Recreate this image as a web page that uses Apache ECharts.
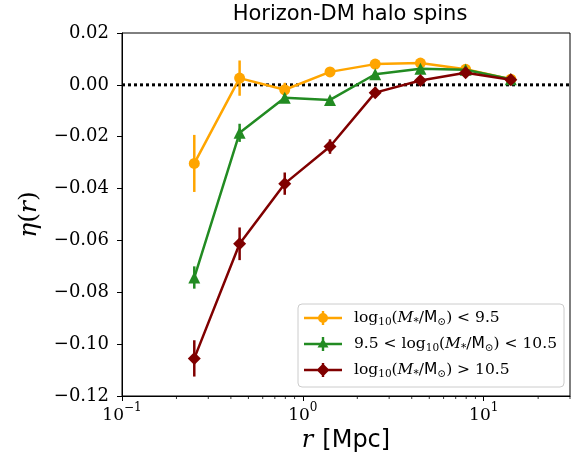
<!DOCTYPE html>
<html><head><meta charset="utf-8">
<script src="https://cdn.jsdelivr.net/npm/echarts@6/dist/echarts.min.js"></script>
<style>html,body{margin:0;padding:0;background:#fff}#c{width:573px;height:461px}</style>
</head><body><div id="c"></div>
<script>
// ---- data ----
const radii = [0.251, 0.447, 0.794, 1.413, 2.512, 4.467, 7.943, 14.125];
const etaLow = [-0.0303, 0.0026, -0.0019, 0.0050, 0.0080, 0.0084, 0.0060, 0.0022];
const errLow = [0.0110, 0.0068, 0.0027, 0.0015, 0.0010, 0.0010, 0.0010, 0.0010];
const etaMid = [-0.0743, -0.0185, -0.0050, -0.0058, 0.0041, 0.0062, 0.0058, 0.0022];
const errMid = [0.0043, 0.0035, 0.0015, 0.0012, 0.0010, 0.0010, 0.0010, 0.0010];
const etaHigh = [-0.1055, -0.0613, -0.0381, -0.0238, -0.0030, 0.0017, 0.0047, 0.0020];
const errHigh = [0.0070, 0.0063, 0.0043, 0.0028, 0.0020, 0.0015, 0.0015, 0.0010];
const seriesNames = ['log10(M*/M⊙) < 9.5', '9.5 < log10(M*/M⊙) < 10.5', 'log10(M*/M⊙) > 10.5'];
const legendRich = [
  '{t|log}{s|10}{t|(}{i|M}{s|*}{t|/}{m|M}{s|⊙}{t|) < 9.5}',
  '{t|9.5 < log}{s|10}{t|(}{i|M}{s|*}{t|/}{m|M}{s|⊙}{t|) < 10.5}',
  '{t|log}{s|10}{t|(}{i|M}{s|*}{t|/}{m|M}{s|⊙}{t|) > 10.5}'
];
const minorTicks = [0.2,0.3,0.4,0.5,0.6,0.7,0.8,0.9,2,3,4,5,6,7,8,9,20,30];
const zeroLevel = [0];
const titleText = 'Horizon-DM halo spins';

const colors = ['#ffa500', '#228b22', '#800000'];
const symbols = ['circle', 'triangle', 'diamond'];
const symSizes = [11, 12, 13];
const iconPaths = [
  'path://M0 6.8H38V9.2H0Z M17.8 1H20.2V15H17.8Z M14 8A5 5 0 0 1 24 8A5 5 0 0 1 14 8Z',
  'path://M0 6.8H38V9.2H0Z M17.8 1H20.2V15H17.8Z M19 2.5L24.5 11.5L13.5 11.5Z',
  'path://M0 6.8H38V9.2H0Z M17.8 1H20.2V15H17.8Z M19 1.5L25.5 8L19 14.5L12.5 8Z'
];
const groups = [[etaLow, errLow], [etaMid, errMid], [etaHigh, errHigh]];

const serif = 'DejaVu Serif';
const sans = 'DejaVu Sans';

function errRender(color) {
  return function (params, api) {
    const x = api.value(0), lo = api.value(1), hi = api.value(2);
    const p1 = api.coord([x, lo]), p2 = api.coord([x, hi]);
    return {type: 'line', shape: {x1: p1[0], y1: p1[1], x2: p2[0], y2: p2[1]},
      style: {stroke: color, lineWidth: 2.5}};
  };
}

const series = [];
// minor ticks on the log axis
series.push({
  type: 'custom', name: 'minor', z: 1, silent: true,
  data: minorTicks.map(v => [v, -0.12]),
  encode: {x: 0, y: 1},
  renderItem: function (params, api) {
    const p = api.coord([api.value(0), api.value(1)]);
    return {type: 'line', shape: {x1: p[0], y1: p[1], x2: p[0], y2: p[1] + 3},
      style: {stroke: '#000', lineWidth: 0.8}};
  }
});
// dotted zero reference line across the full plot width
series.push({
  type: 'custom', name: 'zero', z: 1, silent: true,
  data: zeroLevel.map(v => [1, v]),
  encode: {x: 0, y: 1},
  renderItem: function (params, api) {
    const cs = params.coordSys;
    const p = api.coord([api.value(0), api.value(1)]);
    return {type: 'line', shape: {x1: cs.x, y1: p[1], x2: cs.x + cs.width, y2: p[1]},
      style: {stroke: '#000', lineWidth: 3, lineDash: [3, 3]}};
  }
});
groups.forEach((g, k) => {
  const eta = g[0], err = g[1];
  series.push({
    type: 'custom', name: seriesNames[k] + ' err', z: 2 + k * 2, silent: true,
    data: radii.map((r, i) => [r, eta[i] - err[i], eta[i] + err[i]]),
    encode: {x: 0, y: [1, 2]},
    renderItem: errRender(colors[k])
  });
  series.push({
    type: 'line', name: seriesNames[k], z: 3 + k * 2,
    data: radii.map((r, i) => [r, eta[i]]),
    symbol: symbols[k], symbolSize: symSizes[k], showAllSymbol: true,
    itemStyle: {color: colors[k], borderWidth: 0},
    lineStyle: {color: colors[k], width: 2.5},
    emphasis: {disabled: true}
  });
});

const chart = echarts.init(document.getElementById('c'), null, {renderer: 'canvas'});
chart.setOption({
  animation: false,
  backgroundColor: '#fff',
  grid: {left: 122, right: 3, top: 33, bottom: 65, show: true, borderColor: '#000', borderWidth: 1},
  graphic: [{
    type: 'text', x: 350, y: 4, z: 10,
    style: {text: titleText, font: '21px "DejaVu Sans"', fill: '#000', textAlign: 'center', textVerticalAlign: 'top'}
  }],
  xAxis: {
    type: 'log', logBase: 10, min: 0.1, max: 30,
    name: '{i|r}{m|[Mpc]}', nameLocation: 'middle', nameGap: 31,
    nameTextStyle: {rich: {
      i: {fontFamily: serif, fontStyle: 'italic', fontSize: 24, color: '#000'},
      m: {fontFamily: sans, fontSize: 24, color: '#000', padding: [0, 0, 0, 9]}
    }},
    axisLine: {show: true, onZero: false, lineStyle: {color: '#000', width: 1}},
    axisTick: {show: true, inside: false, length: 5, lineStyle: {color: '#000', width: 1}},
    minorTick: {show: false},
    splitLine: {show: false},
    axisLabel: {
      showMaxLabel: false, margin: 6,
      formatter: function (v) {
        const e = Math.round(Math.log10(v));
        if (Math.abs(Math.log10(v) - e) > 1e-6) return '';
        return '{b|10}{s|' + (e < 0 ? '−' + (-e) : e) + '}';
      },
      rich: {
        b: {fontFamily: serif, fontSize: 17, color: '#000', lineHeight: 22, verticalAlign: 'bottom'},
        s: {fontFamily: serif, fontSize: 12, color: '#000', lineHeight: 14, verticalAlign: 'top'}
      }
    }
  },
  yAxis: {
    type: 'value', min: -0.12, max: 0.02, interval: 0.02,
    name: '{i|η}{t|(}{i|r}{t|)}', nameLocation: 'middle', nameGap: 80, nameRotate: 90,
    nameTextStyle: {rich: {
      i: {fontFamily: serif, fontStyle: 'italic', fontSize: 25, color: '#000'},
      t: {fontFamily: serif, fontSize: 25, color: '#000'}
    }},
    axisLine: {show: true, onZero: false, lineStyle: {color: '#000', width: 1}},
    axisTick: {show: true, inside: false, length: 5, lineStyle: {color: '#000', width: 1}},
    splitLine: {show: false},
    axisLabel: {
      fontFamily: serif, fontSize: 18, color: '#000', margin: 13,
      formatter: v => (v < -1e-9 ? '−' : '') + Math.abs(v).toFixed(2)
    }
  },
  legend: {
    left: 298, top: 304, orient: 'vertical',
    padding: [4, 7, 7, 6], itemGap: 6,
    itemWidth: 38, itemHeight: 16,
    backgroundColor: 'rgba(255,255,255,0.8)',
    borderColor: '#cccccc', borderWidth: 1, borderRadius: 4,
    selectedMode: false,
    data: seriesNames.map((n, k) => ({name: n, icon: iconPaths[k], itemStyle: {color: colors[k], borderWidth: 0}})),
    formatter: name => legendRich[seriesNames.indexOf(name)],
    textStyle: {
      padding: [0, 0, 0, 7], lineHeight: 20,
      rich: {
        t: {fontFamily: serif, fontSize: 15.5, color: '#000', lineHeight: 20},
        i: {fontFamily: serif, fontStyle: 'italic', fontSize: 15.5, color: '#000', lineHeight: 20},
        m: {fontFamily: sans, fontSize: 15.5, color: '#000', lineHeight: 20},
        s: {fontFamily: serif, fontSize: 10.5, color: '#000', lineHeight: 13, verticalAlign: 'bottom'}
      }
    }
  },
  series: series
});
</script>
</body></html>
